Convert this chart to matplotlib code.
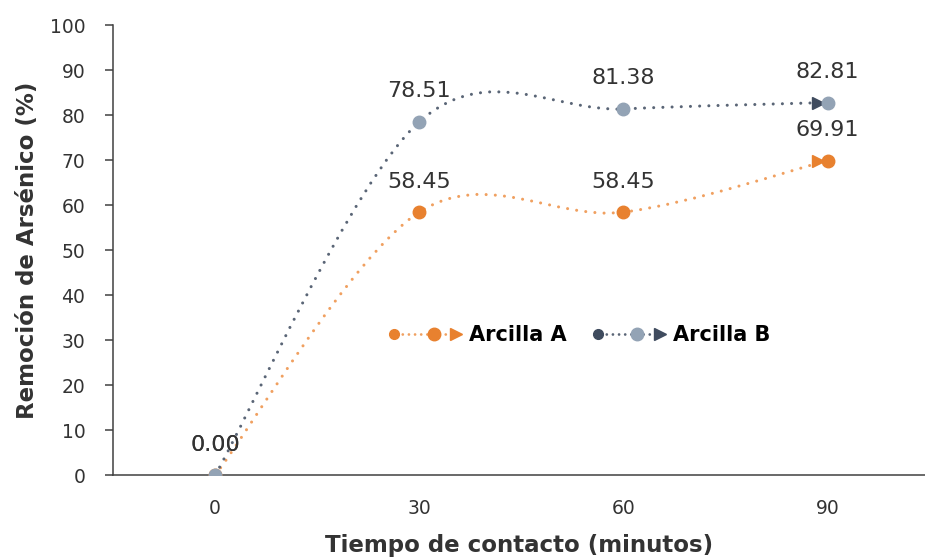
import numpy as np
import matplotlib.pyplot as plt
from matplotlib.path import Path
from matplotlib.patches import PathPatch
from matplotlib.lines import Line2D
from matplotlib.legend_handler import HandlerBase
from matplotlib.transforms import ScaledTranslation

# Data
tiempo = [0, 30, 60, 90]
arcilla_a = [0.00, 58.45, 58.45, 69.91]
arcilla_b = [0.00, 78.51, 81.38, 82.81]

# Colours
a_line = '#F0A060'
a_mark = '#E8812F'
b_line = '#5A6576'
b_mark = '#93A3B5'
b_dark = '#3F4B5E'
txt = '#333333'


def smooth_path(xs, ys, k=1 / 6):
    # Excel-like smoothed line: cubic Bezier segments through the points
    pts = np.column_stack([xs, ys]).astype(float)
    n = len(pts)
    verts = [pts[0]]
    codes = [Path.MOVETO]
    for i in range(n - 1):
        p0 = pts[max(i - 1, 0)]
        p1 = pts[i]
        p2 = pts[i + 1]
        p3 = pts[min(i + 2, n - 1)]
        verts += [p1 + (p2 - p0) * k, p2 - (p3 - p1) * k, p2]
        codes += [Path.CURVE4] * 3
    return Path(verts, codes)


class LineArrowHandler(HandlerBase):
    def create_artists(self, legend, orig_handle, xdescent, ydescent,
                       width, height, fontsize, trans):
        y = height / 2 - ydescent
        x0 = -xdescent
        lc = orig_handle.get_color()
        mc = orig_handle.get_markerfacecolor()
        ec = orig_handle.get_markeredgecolor()
        line = Line2D([x0, x0 + width], [y, y], color=lc, lw=2,
                      dashes=(0.01, 2.2), dash_capstyle='round')
        start = Line2D([x0 + 3], [y], marker='o', ms=7, color=ec, ls='none')
        mid = Line2D([x0 + width * 0.62], [y], marker='o', ms=9, color=mc, ls='none')
        tip = Line2D([x0 + width - 3], [y], marker='>', ms=8, color=ec, ls='none')
        arts = [line, start, mid, tip]
        for a in arts:
            a.set_transform(trans)
        return arts


fig = plt.figure(figsize=(9.25, 5.59), dpi=100)
ax = fig.add_axes([0.1222, 0.150, 0.8778, 0.805])

for ys, lc, mc, ec in [(arcilla_a, a_line, a_mark, a_mark), (arcilla_b, b_line, b_mark, b_dark)]:
    patch = PathPatch(smooth_path(tiempo, ys), fill=False, edgecolor=lc, lw=2.2,
                      linestyle=(0, (0.01, 3.0)), capstyle='round', zorder=2)
    ax.add_patch(patch)
    off = ax.transData + ScaledTranslation(-7 / 72, 0, fig.dpi_scale_trans)
    ax.plot(tiempo[-1:], ys[-1:], marker='>', ms=9, color=ec, ls='none',
            transform=off, zorder=3)
    ax.plot(tiempo, ys, marker='o', ms=9, color=mc, ls='none', zorder=4)
    for x, v in zip(tiempo, ys):
        ax.annotate(f'{v:.2f}', (x, v), xytext=(0, 22), textcoords='offset points',
                    ha='center', va='center', fontsize=16, color=txt)

ax.set_xlim(-15, 104.3)
ax.set_ylim(0, 100)
ax.set_xticks(tiempo)
ax.set_xticklabels([str(t) for t in tiempo])
ax.set_yticks(np.arange(0, 101, 10))

for s in ['top', 'right']:
    ax.spines[s].set_visible(False)
for s in ['left', 'bottom']:
    ax.spines[s].set_color('#404040')
    ax.spines[s].set_linewidth(1.1)
ax.tick_params(axis='x', length=0, pad=17, labelsize=13.5, labelcolor=txt)
ax.tick_params(axis='y', length=6, width=1.1, color='#404040', pad=14,
               labelsize=13.5, labelcolor=txt)

ax.set_xlabel('Tiempo de contacto (minutos)', fontsize=16.5, fontweight='bold',
              color=txt, labelpad=12)
ax.set_ylabel('Remoción de Arsénico (%)', fontsize=16.5, fontweight='bold',
              color=txt, labelpad=8)

proxy_a = Line2D([], [], color=a_line, markerfacecolor=a_mark, markeredgecolor=a_mark)
proxy_b = Line2D([], [], color=b_line, markerfacecolor=b_mark, markeredgecolor=b_dark)
ax.legend([proxy_a, proxy_b], ['Arcilla A', 'Arcilla B'],
          handler_map={Line2D: LineArrowHandler()}, loc='center',
          bbox_to_anchor=(0.575, 0.311), ncol=2, frameon=False,
          prop=dict(weight='bold', size=15), handlelength=3.4,
          handletextpad=0.4, columnspacing=1.3)

fig.savefig('out.png', dpi=100)
